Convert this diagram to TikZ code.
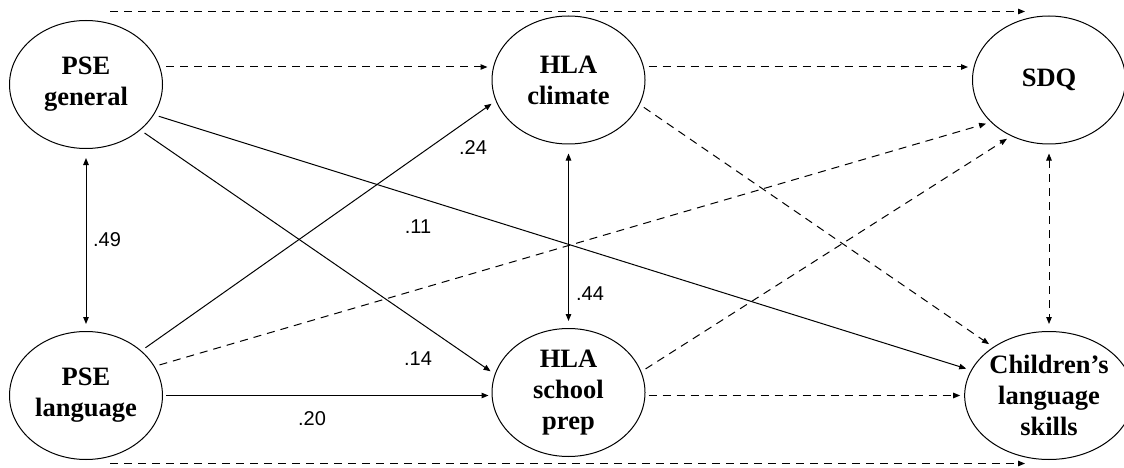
\documentclass[tikz,border=0pt]{standalone}
\usepackage{fontspec}
\setmainfont{Liberation Serif}
\newfontfamily\coeffont{Liberation Sans}
\usetikzlibrary{arrows.meta,shapes.geometric}

\begin{document}
\begin{tikzpicture}[
  x=1pt,
  y=-1pt,
  line join=round,
  latent/.style={ellipse,draw,line width=1pt,minimum width=153pt,minimum height=128pt,
    inner sep=0pt,align=center,font=\fontsize{26.5}{31}\selectfont\bfseries},
  sig/.style={line width=1pt,-{Triangle[length=7pt,width=5.5pt]},shorten <=5pt,shorten >=5pt},
  nonsig/.style={sig,dash pattern=on 8pt off 6pt},
  corr/.style={line width=1pt,{Triangle[length=7pt,width=5.5pt]}-{Triangle[length=7pt,width=5.5pt]},
    shorten <=9pt,shorten >=7pt},
  coef/.style={font=\coeffont\fontsize{20}{24}\selectfont,inner sep=0pt}
]
  \useasboundingbox (0,0) rectangle (1124,468);

  % Latent constructs: predictors, mediators, outcomes.
  \node[latent] (psegen) at (86,84.5) {PSE\\general};
  \node[latent] (pselang) at (86,395.5) {PSE\\language};
  \node[latent] (hlaclim) at (568.5,80) {HLA\\climate};
  \node[latent] (hlaprep) at (568.5,392.5) {HLA\\school\\prep};
  \node[latent] (sdq) at (1049,80) {SDQ};
  \node[latent] (lang) at (1049,395.5) {Children's\\language\\skills};

  % Direct effects skipping the mediators run along the top and bottom.
  \draw[nonsig,shorten <=0pt,shorten >=0pt] ([xshift=24pt,yshift=8.5pt]psegen.north) -- ([xshift=-24pt,yshift=4pt]sdq.north);
  \draw[nonsig,shorten <=0pt,shorten >=0pt] ([xshift=24pt,yshift=-3.5pt]pselang.south) -- ([xshift=-24pt,yshift=-3.5pt]lang.south);

  % Non-significant paths are dashed.
  \draw[nonsig,shorten <=3pt,shorten >=4pt] ([yshift=17.5pt]psegen.east) -- ([yshift=13pt]hlaclim.west);
  \draw[nonsig,shorten <=3pt,shorten >=4pt] ([yshift=13pt]hlaclim.east) -- ([yshift=13pt]sdq.west);
  \draw[nonsig,shorten <=3pt,shorten >=4pt] ([yshift=-3pt]hlaprep.east) -- (lang.west);
  \draw[nonsig] (pselang.23.1) -- (sdq.-144);
  \draw[nonsig] (hlaclim.-19.7) -- (lang.139.4);
  \draw[nonsig] (hlaprep.16.4) -- (sdq.-124.5);

  % Significant paths.
  \draw[sig] (psegen.-40.5) -- (hlaprep.166.2);
  \draw[sig] (psegen.-24.3) -- (lang.162.1);
  \draw[sig] (pselang.39.9) -- (hlaclim.-164.3);
  \draw[sig,shorten <=3pt,shorten >=3pt] (pselang.east) -- ([yshift=-3pt]hlaprep.west);

  % Covariances.
  \draw[corr] (psegen.south) -- (pselang.north);
  \draw[corr] (hlaclim.south) -- (hlaprep.north);
  \draw[corr,dash pattern=on 8pt off 6pt] (sdq.south) -- (lang.north);

  % Standardised estimates.
  \node[coef] (c49) at (107,240) {.49};
  \node[coef] (c24) at (473,148) {.24};
  \node[coef] (c11) at (418,227) {.11};
  \node[coef] (c44) at (590,294) {.44};
  \node[coef] (c14) at (418,359) {.14};
  \node[coef] (c20) at (312,419) {.20};
\end{tikzpicture}
\end{document}
